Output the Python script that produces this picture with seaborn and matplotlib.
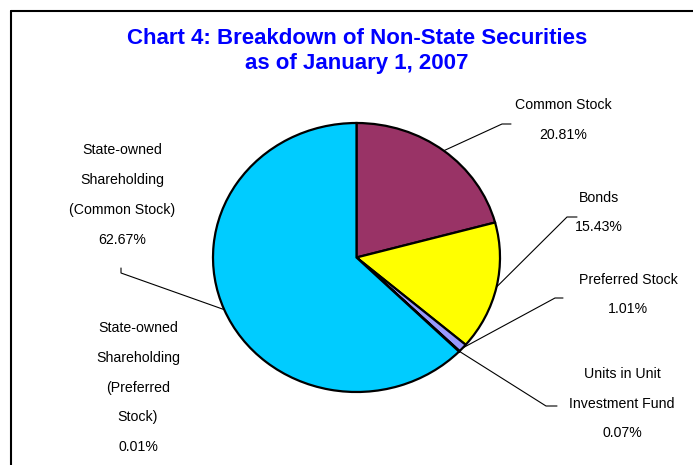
## ==========================================
## Chart 4: Breakdown of Non-State Securities
## ==========================================

import numpy as np
import matplotlib
matplotlib.use("Agg")
import matplotlib.pyplot as plt
import seaborn as sns
from matplotlib.lines import Line2D

## ==========================================
## Data
## ==========================================

labels = [
    "Common Stock",
    "Bonds",
    "Preferred Stock",
    "Units in Unit\nInvestment Fund",
    "State-owned\nShareholding\n(Preferred\nStock)",
    "State-owned\nShareholding\n(Common Stock)",
]

shares = [20.81, 15.43, 1.01, 0.07, 0.01, 62.67]

colors = ["#993366", "#FFFF00", "#9999FF", "#FFFFCC", "#660066", "#00CCFF"]

title_text = "Chart 4: Breakdown of Non-State Securities\nas of January 1, 2007"

## ==========================================
## Layout (pixel positions in the 693x465 picture)
## ==========================================

W, H = 693, 465
CX, CY = 356.5, 257.5      # pie centre
RX, RY = 143.5, 134.5      # pie radii (slightly squashed like the original)

# label block centres
label_pos = [
    (563, 120),
    (599, 212.5),
    (628, 294.5),
    (622, 403.5),
    (138, 387.5),
    (122, 195),
]

# leader elbows: list of points after the pie edge (None = no leader)
leader_pts = [
    [(502, 124), (511, 124)],
    [(567, 217), (577, 217)],
    [(555, 298), (563, 298)],
    [(546, 406), (557, 406)],
    None,
    [(121, 273), (121, 268)],
]


def px(x, y):
    return (x - CX) / RX, (CY - y) / RY


## ==========================================
## Theme
## ==========================================

sns.set_theme(style="white")
plt.rcParams["font.family"] = ["Liberation Sans", "DejaVu Sans"]

fig = plt.figure(figsize=(W / 100, H / 100), dpi=100)
ax = fig.add_axes([0, 0, 1, 1])

## ==========================================
## Pie
## ==========================================

wedges, _ = ax.pie(
    shares,
    colors=colors,
    startangle=90,
    counterclock=False,
    radius=1,
    wedgeprops=dict(edgecolor="black", linewidth=1.6),
)

ax.set_aspect("auto")
x0, y0 = px(0, H)
x1, y1 = px(W, 0)
ax.set_xlim(x0, x1)
ax.set_ylim(y0, y1)
ax.axis("off")

## ==========================================
## Labels + leader lines
## ==========================================

for i, w in enumerate(wedges):

    mid = np.deg2rad((w.theta1 + w.theta2) / 2)

    edge = (np.cos(mid), np.sin(mid))

    pct = f"{shares[i]:.2f}%"

    tx, ty = px(*label_pos[i])

    ax.text(
        tx, ty,
        labels[i] + "\n" + pct,
        ha="center", va="center",
        fontsize=10.2, linespacing=2.45,
        color="black",
    )

    if leader_pts[i] is not None:
        pts = [edge] + [px(*p) for p in leader_pts[i]]
        xs = [p[0] for p in pts]
        ys = [p[1] for p in pts]
        ax.plot(xs, ys, color="black", linewidth=0.8)

## ==========================================
## Title
## ==========================================

fig.text(
    357 / W, 1 - 51 / H,
    title_text,
    ha="center", va="center",
    fontsize=16, fontweight="bold",
    color="#0000FF", linespacing=1.3,
)

## ==========================================
## Chart frame (cut off at right and bottom)
## ==========================================

fx, fy = 11 / W, 1 - 11 / H
fig.add_artist(Line2D([fx, fx], [0, fy], color="black", linewidth=1.5))
fig.add_artist(Line2D([fx, 1], [fy, fy], color="black", linewidth=1.5))

plt.savefig("out.png", dpi=100)
plt.close()
